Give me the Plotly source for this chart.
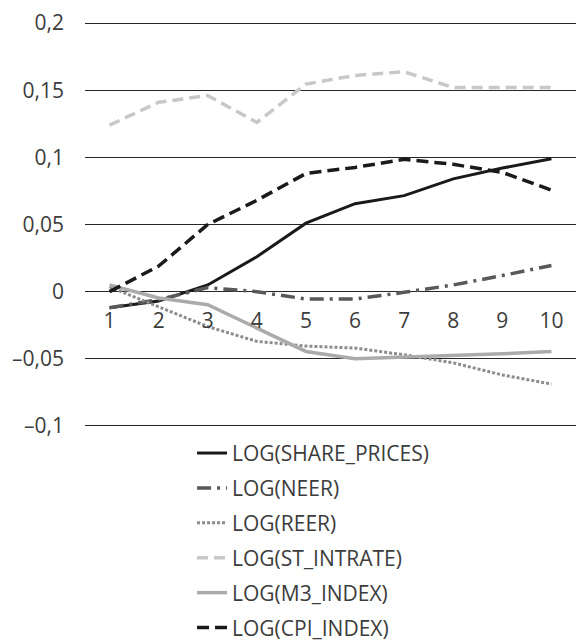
import plotly.graph_objects as go

periods = ["1", "2", "3", "4", "5", "6", "7", "8", "9", "10"]

share_prices = [-0.012, -0.007, 0.005, 0.026, 0.051, 0.0655, 0.0715, 0.084, 0.092, 0.099]
neer = [-0.012, -0.006, 0.003, 0.0, -0.0055, -0.0055, -0.0005, 0.005, 0.012, 0.0195]
reer = [0.0035, -0.011, -0.026, -0.037, -0.0405, -0.042, -0.047, -0.053, -0.062, -0.0688]
st_intrate = [0.124, 0.141, 0.146, 0.126, 0.1545, 0.161, 0.1637, 0.152, 0.152, 0.152]
m3_index = [0.005, -0.0047, -0.0097, -0.027, -0.0445, -0.05, -0.0487, -0.0478, -0.0463, -0.0445]
cpi_index = [0.0, 0.019, 0.05, 0.068, 0.088, 0.0925, 0.0985, 0.0948, 0.0888, 0.0756]

y_tickvals = [0.2, 0.15, 0.1, 0.05, 0, -0.05, -0.1]
y_ticktext = ["0,2", "0,15", "0,1", "0,05", "0", "\u20130,05", "\u20130,1"]

series = [
    ("LOG(SHARE_PRICES)", share_prices, "#1a1a1a", "solid", 3),
    ("LOG(NEER)", neer, "#595959", "14px,6px,3px,6px", 3.5),
    ("LOG(REER)", reer, "#8c8c8c", "3px,2px", 3),
    ("LOG(ST_INTRATE)", st_intrate, "#c8c8c8", "11px,6px", 3.5),
    ("LOG(M3_INDEX)", m3_index, "#ababab", "solid", 3.5),
    ("LOG(CPI_INDEX)", cpi_index, "#1a1a1a", "12px,6px", 3.5),
]

fig = go.Figure()
for i, (name, vals, color, dash, w) in enumerate(series):
    fig.add_trace(go.Scatter(
        x=periods, y=vals, name=name, mode="lines",
        line=dict(color=color, dash=dash, width=w),
        legendgroup=f"g{i}",
    ))

# the page body adds an 8px margin, so the figure is offset to compensate
fig.update_layout(
    width=570, height=636,
    margin=dict(l=77, r=2, t=13, b=216, autoexpand=False),
    paper_bgcolor="white", plot_bgcolor="white",
    font=dict(family="Open Sans", size=21, color="#3c3c3c"),
    showlegend=True,
    legend=dict(
        x=0.218, xanchor="left", y=-0.012, yanchor="top",
        orientation="v", tracegroupgap=4.6,
        font=dict(size=21, color="#3c3c3c"),
        bgcolor="rgba(0,0,0,0)",
    ),
    xaxis=dict(
        type="category", anchor="free", position=(0 + 0.1015) / 0.303,
        range=[-0.5, 9.5],
        showgrid=False, showline=False, zeroline=False,
        ticks="", ticklabelstandoff=14,
        tickfont=dict(size=21, color="#3c3c3c"),
    ),
    yaxis=dict(
        range=[-0.1015, 0.2015], tickvals=y_tickvals, ticktext=y_ticktext,
        showgrid=True, gridcolor="#262626", gridwidth=1.2,
        zeroline=True, zerolinecolor="#262626", zerolinewidth=1.2,
        showline=False, ticks="", ticklabelstandoff=20,
        tickfont=dict(size=21, color="#3c3c3c"),
    ),
)

fig.write_html("out.html")
